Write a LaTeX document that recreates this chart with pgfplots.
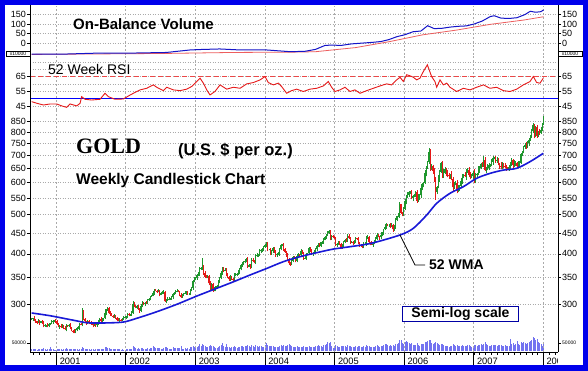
\documentclass[border=0pt]{standalone}
\usepackage{fontspec}
\setmainfont{Liberation Sans}
\newfontfamily\serifb{Liberation Serif}
\usepackage{pgfplots}
\usepackage{pgfplotstable}
\pgfplotsset{compat=1.18}
\definecolor{bord}{RGB}{0,0,235}
\definecolor{cgreen}{RGB}{30,150,45}
\definecolor{cred}{RGB}{230,25,25}
\definecolor{wmac}{RGB}{25,25,215}
\definecolor{obvb}{RGB}{20,20,200}
\definecolor{volc}{RGB}{115,115,240}
\definecolor{gridc}{RGB}{170,170,170}
\newcommand\tk{\fontsize{9}{10}\selectfont}

\pgfplotstableread{
o h l c v
275 278 274 276 1.2
276 278 273 277 1.0
277 280 272 274 1.4
274 276 270 272 1.1
272 273 268 270 0.9
270 276 269 273 1.3
273 275 267 270 1.0
270 273 269 272 1.2
272 274 268 270 1.5
270 273 263 265 1.8
265 268 264 266 1.1
266 267 263 266 0.9
266 269 263 265 1.0
265 270 263 268 1.2
268 270 266 269 2.4
269 274 268 271 1.3
271 274 268 272 1.1
272 275 271 274 0.8
274 276 270 272 0.7
272 275 266 268 1.2
268 270 263 264 1.6
264 266 261 265 1.0
265 268 262 264 1.1
264 268 262 266 0.9
266 267 260 262 1.4
262 265 259 260 1.5
260 268 257 266 2.0
266 267 264 265 1.1
265 268 263 266 1.0
266 269 260 262 1.3
262 264 257 258 1.5
258 259 254 257 1.2
257 260 254 256 1.4
256 261 254 259 1.0
259 263 257 262 1.1
262 265 261 262 0.9
262 270 259 268 1.6
268 269 266 267 1.3
267 294 265 288 2.8
288 291 274 276 2.2
276 278 271 272 1.5
272 273 267 270 1.2
270 275 268 272 1.0
272 274 268 270 1.1
270 271 268 270 0.9
270 273 267 268 1.0
268 270 263 266 1.2
266 269 265 268 0.9
268 270 264 266 1.0
266 271 264 268 1.1
268 274 267 272 1.3
272 277 269 276 1.6
276 279 270 272 1.2
272 277 270 275 1.0
275 278 273 277 1.4
277 292 276 285 2.6
285 292 282 290 2.3
290 296 289 293 1.9
293 295 283 285 1.8
285 288 281 283 1.4
283 285 280 281 1.2
281 282 277 280 1.1
280 283 278 280 1.0
280 282 276 278 1.2
278 279 273 275 1.3
275 278 273 274 1.0
274 277 271 275 1.1
275 276 273 274 0.9
274 278 272 276 1.0
276 281 274 278 0.8
278 281 277 279 0.7
279 280 276 279 1.0
279 286 277 283 1.5
283 285 280 282 1.2
282 284 281 283 1.1
283 288 281 285 1.6
285 306 284 300 3.0
300 304 295 298 2.4
298 299 293 294 1.9
294 299 292 297 1.6
297 299 291 292 1.8
292 293 286 289 1.5
289 300 287 297 1.7
297 305 295 302 2.0
302 304 298 300 1.6
300 304 297 303 1.4
303 306 300 302 1.3
302 310 300 308 1.8
308 311 306 309 1.5
309 315 307 314 2.1
314 317 313 315 2.0
315 323 314 320 3.0
320 328 317 326 2.6
326 327 323 324 2.2
324 326 320 322 1.9
322 327 321 324 1.7
324 326 314 317 2.0
317 321 316 320 1.5
320 323 318 321 1.6
321 325 319 322 1.8
322 324 304 305 2.8
305 309 302 308 2.4
308 312 306 309 1.9
309 312 307 310 1.6
310 311 308 310 1.4
310 315 308 312 1.6
312 320 309 318 2.3
318 321 317 320 2.0
320 325 318 323 2.2
323 327 321 324 1.9
324 326 321 322 1.7
322 323 314 317 2.0
317 320 311 313 3.5
313 318 311 316 1.6
316 320 314 319 1.5
319 323 318 320 1.7
320 324 317 322 1.6
322 323 317 318 1.8
318 320 316 318 1.4
318 327 316 324 2.4
324 332 323 330 2.6
330 345 326 343 3.2
343 351 340 347 2.8
347 351 344 348 2.2
348 357 345 355 2.9
355 361 353 357 3.0
357 370 353 367 4.3
367 370 365 368 3.0
368 390 365 372 4.5
372 376 355 358 3.8
358 362 348 351 3.0
351 354 348 350 2.4
350 355 348 352 2.6
352 354 334 338 3.3
338 342 326 329 3.6
329 339 326 336 3.1
336 338 322 325 3.4
325 331 323 327 2.5
327 333 323 330 2.2
330 335 328 333 2.0
333 345 331 342 2.8
342 351 338 349 3.1
349 362 346 358 3.6
358 371 355 368 5.0
368 370 361 364 3.1
364 369 362 365 2.7
365 368 352 356 4.5
356 358 348 350 2.6
350 353 343 346 2.4
346 354 343 350 2.0
350 353 345 347 2.3
347 349 341 345 2.5
345 359 342 355 3.0
355 358 352 355 2.4
355 359 352 357 2.2
357 364 355 360 2.6
360 369 356 366 2.9
366 377 364 375 3.3
375 381 372 378 3.0
378 385 375 381 2.8
381 388 379 385 3.2
385 390 381 388 3.4
388 392 369 372 4.0
372 378 370 375 3.1
375 377 367 370 2.7
370 391 368 387 3.8
387 390 381 385 3.0
385 387 379 381 2.6
381 399 378 396 3.6
396 401 393 397 3.2
397 400 393 398 2.5
398 410 395 406 3.4
406 410 402 408 3.0
408 414 405 410 2.8
410 419 407 416 2.4
416 422 413 420 3.9
420 428 417 424 5.4
424 427 406 410 4.2
410 412 408 410 3.0
410 413 397 400 3.5
400 409 398 406 3.1
406 415 402 413 3.0
413 417 402 405 2.7
405 408 394 397 2.9
397 401 394 399 2.5
399 404 397 400 2.6
400 413 396 410 3.4
410 423 408 421 3.8
421 424 418 421 3.3
421 425 407 410 3.6
410 413 403 405 3.0
405 407 393 397 3.2
397 401 385 388 3.9
388 391 376 379 4.4
379 381 374 377 3.7
377 389 375 385 3.2
385 396 381 393 2.8
393 395 388 390 2.4
390 393 381 384 2.6
384 400 381 396 3.0
396 401 394 398 2.5
398 400 393 397 2.3
397 410 394 406 2.9
406 409 400 403 2.6
403 405 387 390 3.1
390 395 388 391 2.7
391 402 387 399 2.8
399 403 397 401 2.4
401 416 398 413 3.3
413 417 404 407 2.9
407 410 398 400 2.6
400 404 396 402 2.4
402 409 399 405 2.7
405 413 402 410 3.0
410 421 407 419 3.4
419 426 417 422 3.6
422 425 415 419 3.0
419 429 417 427 3.2
427 430 424 427 2.8
427 438 424 434 3.7
434 443 432 440 4.1
440 448 436 446 4.5
446 455 443 451 5.8
451 458 448 455 5.2
455 459 432 435 6.0
435 445 433 443 3.3
443 446 437 441 2.2
441 444 435 438 2.0
438 441 418 420 3.9
420 426 416 424 3.2
424 431 421 427 2.8
427 430 420 423 2.6
423 425 411 414 3.4
414 424 412 420 3.0
420 431 416 428 3.1
428 436 426 434 3.5
434 437 429 432 2.9
432 448 429 444 3.8
444 447 436 438 3.3
438 440 424 428 3.0
428 431 426 428 2.5
428 430 421 425 2.6
425 432 422 428 2.7
428 440 425 437 3.3
437 439 434 436 2.5
436 440 423 425 3.1
425 428 416 420 3.3
420 422 417 419 2.8
419 422 413 416 2.9
416 429 413 425 3.4
425 429 423 425 2.7
425 442 419 440 4.1
440 446 436 440 3.2
440 444 423 427 3.5
427 429 420 424 2.8
424 430 421 423 2.4
423 428 417 424 2.5
424 432 422 430 2.9
430 440 426 436 3.2
436 451 432 445 3.6
445 449 440 442 3.0
442 444 434 440 2.7
440 452 436 446 3.1
446 453 442 449 3.3
449 462 445 460 4.0
460 473 458 467 4.3
467 477 461 473 4.5
473 475 468 470 3.6
470 474 466 470 3.4
470 476 464 468 3.7
468 476 466 472 3.2
472 474 454 460 3.9
460 471 456 465 3.3
465 490 461 486 4.6
486 497 482 495 4.8
495 504 493 498 5.0
498 538 492 530 6.8
530 532 503 505 7.2
505 509 496 500 5.4
500 523 496 517 4.3
517 546 514 540 6.0
540 559 531 556 6.5
556 569 550 560 5.8
560 574 554 568 5.2
568 571 562 568 4.6
568 577 546 549 5.0
549 561 540 555 4.2
555 563 552 560 3.6
560 574 554 568 3.8
568 577 536 542 4.9
542 563 538 555 4.0
555 562 543 558 3.5
558 595 550 583 4.4
583 600 575 592 4.8
592 604 584 600 4.5
600 646 596 634 5.6
634 662 622 654 5.9
654 681 650 677 6.3
677 730 669 715 7.0
715 727 642 650 6.8
650 668 646 660 5.1
660 664 630 642 4.7
642 654 604 612 5.0
612 620 545 570 5.8
570 589 562 585 4.9
585 626 581 614 4.3
614 646 602 638 4.0
638 674 634 670 4.6
670 678 617 625 4.4
625 648 617 636 3.7
636 656 632 648 3.3
648 652 623 635 3.0
635 647 619 627 3.2
627 635 614 622 2.9
622 632 614 628 3.0
628 640 608 612 3.5
612 620 572 584 4.4
584 603 580 599 3.6
599 607 591 599 3.1
599 611 565 573 4.0
573 592 569 584 3.3
584 594 572 590 3.0
590 617 582 605 3.2
605 632 597 624 3.7
624 631 616 627 3.5
627 639 619 623 3.1
623 648 611 640 3.4
640 651 636 647 3.8
647 655 619 627 3.6
627 639 612 620 3.0
620 630 616 622 2.4
622 640 610 636 2.6
636 648 599 607 4.1
607 635 599 627 3.8
627 635 619 631 3.2
631 660 627 648 3.7
648 660 636 652 3.9
652 671 648 667 4.3
667 675 657 665 3.8
665 697 657 685 4.5
685 693 641 645 5.6
645 656 633 652 4.6
652 666 644 654 3.9
654 671 646 663 3.4
663 667 655 663 3.0
663 689 659 677 3.8
677 698 665 690 4.2
690 696 686 692 3.9
692 700 672 680 3.6
680 696 672 684 3.4
684 692 663 667 4.0
667 671 650 662 3.7
662 674 648 656 3.9
656 674 648 666 3.3
666 670 651 659 3.2
659 671 651 655 3.6
655 663 642 654 3.5
654 658 646 650 3.0
650 665 642 657 3.4
657 677 649 665 7.5
665 690 661 682 4.6
682 686 652 664 4.9
664 682 656 670 4.2
670 680 662 672 4.6
672 676 654 662 6.2
662 679 658 667 4.4
667 681 655 673 4.0
673 710 669 706 5.8
706 721 698 713 5.2
713 741 709 737 6.0
737 751 729 743 5.1
743 755 729 737 4.8
737 760 733 752 5.5
752 775 740 767 6.1
767 787 763 783 6.5
783 814 775 806 7.4
806 845 798 833 9.0
833 841 773 785 8.2
785 831 777 823 6.8
823 835 775 783 7.5
783 806 779 802 5.6
802 814 788 796 5.2
796 824 792 812 4.6
812 842 804 838 3.5
838 878 834 863 5.0
}\gold

\pgfplotstableread{
w v
0 48
3.8 46.9
8.8 45.7
13.8 46.4
18.8 46.4
22.5 45.1
26.3 44.1
28.8 46.4
33.8 45.1
36.3 46.8
37.5 51.4
40 49.6
45 49.1
51.3 49.6
55 53.7
57.5 51.4
62.5 49.6
68.8 49.8
72.5 51.8
76.3 53.7
81.3 56
86.3 57.1
91.3 59.4
93.8 57.8
98.8 55.5
101.3 57.8
106.3 56
111.3 55.5
116.3 56.5
120 58.3
123.8 61.7
126.3 64
128.8 60.6
131.3 56
133.8 52.6
137.5 54.9
141.3 59.4
146.3 56.5
151.3 57.8
156.3 57.1
161.3 60.1
166.3 61
171.3 62.8
175 65.1
177.5 61
181.3 59.4
185 60.6
187.5 58.3
191.3 53.7
195 55.5
198.8 56.5
203.8 54.9
208.8 56.5
213.8 57.1
218.8 58.7
222.5 61.7
225 57.8
227.5 54.9
231.3 56
235 57.8
238.8 54.9
242.5 56
246.3 53.7
251.3 55.5
256.3 57.1
261.3 58.7
266.3 60.1
270 59.4
273.8 62.8
276.3 64.6
278.8 61.7
281.3 66.3
283.8 65.6
286.3 64.6
288.8 62.8
291.3 64
293.8 68.5
296.8 73.1
300 65.1
302.5 61.7
303.8 57.8
306.3 62.8
308.8 59.4
311.3 60.6
313.8 57.8
318.8 54.9
323.8 57.1
328.8 56
333.8 57.8
338.8 59.4
343.8 57.1
348.8 57.8
353.8 55.5
358.8 54.9
363.8 56.5
368.8 59.4
373.8 61.7
376.3 65.1
378.8 61
381.3 60.6
383.8 64
}\rsi

\pgfplotstableread{
w v
0 -54
26 -54
51 -49
76 -49
101 -46
119 -33
126 -31
141 -28
156 -33
176 -33
186 -38
194 -42
205 -40
213 -30
220 -10
225 -8
232 -10
240 -2
248 2
256 6
262 10
268 20
274 35
280 45
286 60
292 64
297 91
302 76
308 78
314 84
320 88
326 90
332 100
338 115
344 138
347 142
352 130
358 128
364 132
370 148
374 165
378 160
382 163
384 172
}\obv

\pgfplotstableread{
w v
0 -56
100 -51
150 -46
200 -44
213 -42
243 -21
268 9
293 44
319 69
344 98
369 120
384 137
}\obvma

\pgfplotstableread{
w p
0 285.4
13.8 281
31 274
41.5 270
53.5 269.6
68.5 271
79 277
94 287.6
109 300
124 314.5
138.8 328.6
151.3 341
163.8 354.5
176.3 368
188.8 382.5
201.3 393.6
213.8 402.6
226.3 411
238.8 416.6
255 425
276.3 445.4
286.3 462.7
296.3 499
303.8 533.6
313.8 565
323.8 586.7
333.8 615.4
343.8 633
353.8 645
363.8 651.6
373.8 676.6
383.8 709.8
}\wma

\pgfplotsset{
 base/.style={scale only axis, width=528pt, xmin=-1.24, xmax=394.8, anchor=south west,
   axis line style={draw=none},
   xtick={18.43,70.57,122.71,174.86,227.14,279.29,331.43,383.57}, xticklabels={},
   xmajorgrids, major x grid style={gridc, line width=0.5pt, dash pattern=on 2pt off 2pt},
   major x tick style={draw=none},
   ymajorgrids, major y grid style={gridc, line width=0.5pt, dash pattern=on 1pt off 1.5pt},
   tick align=outside, major tick length=3pt, tick style={black, line width=0.5pt},
   yticklabel style={font=\tk, inner sep=1pt},
   ytick pos=left},
 lab/.style={scale only axis, width=528pt, xmin=-1.24, xmax=394.8, anchor=south west,
   axis line style={draw=none}, xtick=\empty,
   tick align=outside, major tick length=3pt, tick style={black, line width=0.5pt},
   ytick pos=right, yticklabel pos=right, yticklabel style={font=\tk, inner sep=1pt}},
 candle/.style={only marks, mark=*, mark size=0pt, mark options={draw=none, fill=none},
   error bars/y dir=plus, error bars/y explicit, error bars/error mark=none},
}

\begin{document}
\begin{tikzpicture}[x=1pt,y=1pt]
\useasboundingbox (0,0) rectangle (588,371);
\fill[bord] (0,0) rectangle (588,371);
\fill[white] (5,6) rectangle (583,366);

% ---- OBV panel
\begin{axis}[base, at={(30pt,316pt)}, height=49pt, ymin=-58.9, ymax=192,
  ytick={0,50,100,150}, yticklabels={0,50,100,150}]
\addplot[cred!70, line width=0.8pt] table[x=w,y=v]{\obvma};
\addplot[obvb, line width=1pt] table[x=w,y=v]{\obv};
\end{axis}
\begin{axis}[lab, at={(30pt,316pt)}, height=49pt, ymin=-58.9, ymax=192,
  ytick={0,50,100,150}, yticklabels={0,50,100,150}]
\end{axis}

% ---- RSI panel
\begin{axis}[base, at={(30pt,261pt)}, height=54pt, ymin=42.3, ymax=79.1,
  ytick={45,55,65}, yticklabels={45,55,65},
  minor ytick={50,60,70,75}, yminorgrids, minor y grid style={gridc, line width=0.5pt, dash pattern=on 1pt off 1.5pt}, minor tick length=0pt]
\addplot[cred!80, line width=0.6pt, dash pattern=on 5pt off 3pt] coordinates {(-1.24,65) (394.8,65)};
\addplot[blue, line width=1.3pt] coordinates {(-1.24,50) (394.8,50)};
\addplot[cred, line width=0.9pt] table[x=w,y=v]{\rsi};
\end{axis}
\begin{axis}[lab, at={(30pt,261pt)}, height=54pt, ymin=42.3, ymax=79.1,
  ytick={45,55,65}, yticklabels={45,55,65}]
\end{axis}

% ---- Volume
\begin{axis}[lab, ytick pos=left, yticklabel pos=left, at={(30pt,20pt)}, height=21pt, ymin=0, ymax=13.6,
  ytick={5}, yticklabels={50000}, yticklabel style={font=\fontsize{5}{5}\selectfont}]
\addplot[ycomb, volc, line width=0.8pt, mark=none] table[x expr=\coordindex, y=v]{\gold};
\end{axis}
\begin{axis}[lab, at={(30pt,20pt)}, height=21pt, ymin=0, ymax=13.6,
  ytick={5}, yticklabels={50000}, yticklabel style={font=\fontsize{5}{5}\selectfont}]
\end{axis}

% ---- Main price panel
\begin{axis}[base, at={(30pt,19pt)}, height=242pt, ymode=log, ymin=228.5, ymax=908.7,
  ytick={300,350,400,450,500,550,600,650,700,750,800,850},
  yticklabels={300,350,400,450,500,550,600,650,700,750,800,850}]
\addplot[candle, restrict expr to domain={\thisrow{c}-\thisrow{o}}{0:2000},
  error bars/error bar style={cgreen, line width=0.45pt}]
  table[x expr=\coordindex, y=l, y error expr=\thisrow{h}-\thisrow{l}]{\gold};
\addplot[candle, restrict expr to domain={\thisrow{c}-\thisrow{o}}{0:2000},
  error bars/error bar style={cgreen, line width=1.0pt}]
  table[x expr=\coordindex, y=o, y error expr=\thisrow{c}-\thisrow{o}]{\gold};
\addplot[candle, restrict expr to domain={\thisrow{o}-\thisrow{c}}{0.5:2000},
  error bars/error bar style={cred, line width=0.45pt}]
  table[x expr=\coordindex, y=l, y error expr=\thisrow{h}-\thisrow{l}]{\gold};
\addplot[candle, restrict expr to domain={\thisrow{o}-\thisrow{c}}{0.5:2000},
  error bars/error bar style={cred, line width=1.0pt}]
  table[x expr=\coordindex, y=c, y error expr=\thisrow{o}-\thisrow{c}]{\gold};
\addplot[wmac, line width=1.6pt, smooth] table[x=w,y=p]{\wma};
\end{axis}
\begin{axis}[lab, at={(30pt,19pt)}, height=242pt, ymode=log, ymin=228.5, ymax=908.7,
  ytick={300,350,400,450,500,550,600,650,700,750,800,850},
  yticklabels={300,350,400,450,500,550,600,650,700,750,800,850}]
\end{axis}

% ---- Bottom time axis
\begin{axis}[scale only axis, width=528pt, height=10pt, at={(30pt,19pt)}, anchor=south west,
  xmin=-1.24, xmax=394.8, ymin=0, ymax=1, axis line style={draw=none}, ytick=\empty,
  xtick={18.43,70.57,122.71,174.86,227.14,279.29,331.43,383.57},
  xticklabels={2001,2002,2003,2004,2005,2006,2007,2008},
  minor xtick={1.04,5.39,...,394}, xtick pos=left,
  tick align=outside, major tick length=13pt, minor tick length=3pt,
  tick style={black, line width=0.5pt},
  xticklabel style={font=\fontsize{9.3}{10}\selectfont, anchor=north west, xshift=0pt, yshift=11pt}]
\end{axis}
\fill[white] (558.4,6.2) rectangle (582.8,17.5);

% frame lines
\draw[black, line width=0.6pt] (30,19) -- (30,366);
\draw[black, line width=0.6pt] (558,19) -- (558,366);
\draw[black, line width=0.6pt] (30,19) -- (558,19);

% x10000 boxes
\node[draw=black, fill=white, line width=0.4pt, inner sep=0.4pt, minimum width=24pt, minimum height=5.5pt, font=\fontsize{5}{5}\selectfont] at (18,317.5) {x10000};
\node[draw=black, fill=white, line width=0.4pt, inner sep=0.4pt, minimum width=24pt, minimum height=5.5pt, font=\fontsize{5}{5}\selectfont] at (570,317.5) {x10000};

% texts
\node[anchor=west, inner sep=0, font=\bfseries\fontsize{15}{15}\selectfont] at (73,347) {On-Balance Volume};
\node[anchor=west, inner sep=0, font=\fontsize{14}{14}\selectfont] at (48,301) {52 Week RSI};
\node[anchor=west, inner sep=0, font=\serifb\bfseries\fontsize{22}{22}\selectfont] at (76,224.5) {GOLD};
\node[anchor=west, inner sep=0, font=\bfseries\fontsize{16.5}{16.5}\selectfont] at (178,220.3) {(U.S. \$ per oz.)};
\node[anchor=west, inner sep=0, font=\bfseries\fontsize{15.5}{15.5}\selectfont] at (76,191) {Weekly Candlestick Chart};
\draw[black, line width=0.8pt] (400,136) -- (415,106) -- (425,106);
\node[anchor=west, inner sep=0, font=\bfseries\fontsize{14}{14}\selectfont] at (429,106) {52 WMA};
\node[draw=bord!70!black, line width=1.2pt, fill=white, minimum width=115.6pt, minimum height=15pt, inner sep=0, font=\bfseries\fontsize{14}{14}\selectfont] at (460.5,56.8) {Semi-log scale};
\end{tikzpicture}
\end{document}
